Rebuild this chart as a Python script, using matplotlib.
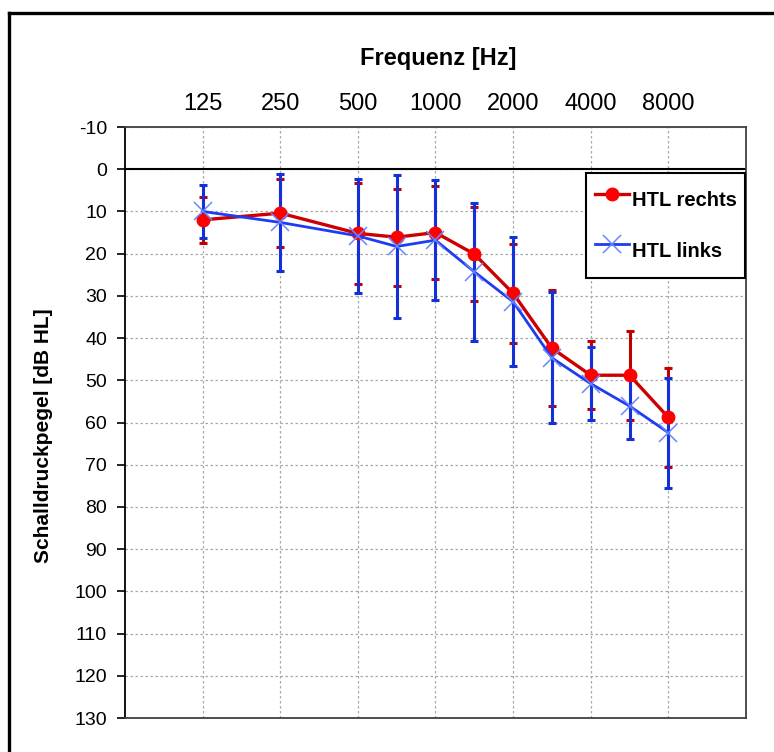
import matplotlib
matplotlib.use('Agg')
import matplotlib.pyplot as plt
from matplotlib.lines import Line2D
import numpy as np

plt.rcParams['font.family'] = ['Liberation Sans', 'DejaVu Sans']
plt.rcParams['axes.unicode_minus'] = False

# Audiogram data (mean hearing threshold and standard deviation, dB HL)
freqs = [125, 250, 500, 750, 1000, 1500, 2000, 3000, 4000, 6000, 8000]
octave_freqs = [125, 250, 500, 1000, 2000, 4000, 8000]
octave_labels = ['125', '250', '500', '1000', '2000', '4000', '8000']

htl_rechts = [12.0, 10.4, 15.2, 16.1, 15.0, 20.1, 29.4, 42.4, 48.8, 48.8, 58.8]
sd_rechts = [5.5, 8.0, 12.0, 11.5, 11.0, 11.1, 11.7, 13.8, 8.0, 10.5, 11.7]

htl_links = [10.0, 12.6, 15.8, 18.3, 16.8, 24.3, 31.4, 44.7, 50.8, 56.1, 62.4]
sd_links = [6.2, 11.5, 13.6, 16.9, 14.2, 16.4, 15.3, 15.5, 8.6, 7.7, 13.0]

y_ticks = list(range(-10, 131, 10))

# octave axis: linear interpolation between octave frequencies (like the Excel chart)
x = np.interp(freqs, octave_freqs, np.arange(len(octave_freqs)))

fig = plt.figure(figsize=(7.74, 7.52), dpi=100)
ax = fig.add_axes([0.1615, 0.0452, 0.8023, 0.7859])

ax.errorbar(x, htl_rechts, yerr=sd_rechts, fmt='none', ecolor='#c00000',
            elinewidth=2.2, capsize=3, capthick=2.2, zorder=2)
ax.errorbar(x, htl_links, yerr=sd_links, fmt='none', ecolor='#1430d8',
            elinewidth=2.2, capsize=3, capthick=2.2, zorder=3)
ax.plot(x, htl_rechts, color='#cc0000', lw=2.4, marker='o', markersize=9,
        markerfacecolor='#ff0000', markeredgecolor='#ff0000', label='HTL rechts', zorder=4)
ax.plot(x, htl_links, color='#1e3cf0', lw=2.0, marker='x', markersize=12.5,
        markeredgewidth=1.1, markeredgecolor='#6a86ff', label='HTL links', zorder=5)

ax.axhline(0, color='black', lw=1.5, zorder=1.5)

ax.set_xlim(-1, 7)
ax.set_ylim(130, -10)
ax.set_yticks(y_ticks)
ax.set_xticks(np.arange(len(octave_freqs)))
ax.set_xticklabels(octave_labels)
ax.xaxis.tick_top()
ax.tick_params(axis='x', length=0, pad=9, labelsize=17)
ax.tick_params(axis='y', direction='out', length=6, width=1.2, labelsize=14, pad=7)

ax.grid(True, color='#a8a8a8', linestyle=(0, (2, 2)), lw=0.9, zorder=0)
ax.set_axisbelow(True)

for side in ['top', 'right', 'bottom']:
    ax.spines[side].set_color('#404040')
    ax.spines[side].set_linewidth(1.3)
ax.spines['left'].set_color('black')
ax.spines['left'].set_linewidth(1.3)

fig.text(43.5 / 774, 1 - 436 / 752, 'Schalldruckpegel [dB HL]', fontsize=15,
         fontweight='bold', rotation=90, ha='center', va='center')
fig.text(438 / 774, 1 - 58 / 752, 'Frequenz [Hz]', fontsize=17, fontweight='bold',
         ha='center', va='center')

leg = ax.legend(loc='upper right', bbox_to_anchor=(0.998, 0.922), borderaxespad=0,
                fancybox=False, edgecolor='black', framealpha=1,
                prop={'weight': 'bold', 'size': 14.5}, handlelength=1.7,
                handleheight=2.5, handletextpad=0.15, labelspacing=0.65, borderpad=0.4)
leg.get_frame().set_linewidth(1.5)

# outer frame (left and top edges)
fig.add_artist(Line2D([8.5 / 774, 8.5 / 774], [0, 1 - 13 / 752], color='black', lw=2.4))
fig.add_artist(Line2D([8.5 / 774, 1], [1 - 13 / 752, 1 - 13 / 752], color='black', lw=2.4))

fig.savefig('out.png', dpi=100)
